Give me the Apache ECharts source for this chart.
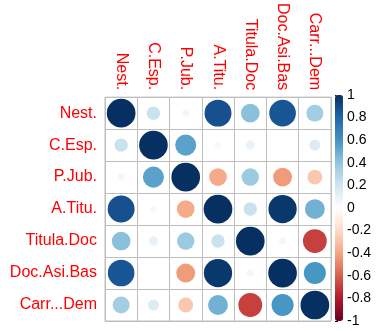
<!DOCTYPE html>
<html>
<head>
<meta charset="utf-8">
<script src="https://cdn.jsdelivr.net/npm/echarts@6/dist/echarts.min.js"></script>
<style>html,body{margin:0;padding:0;background:#fff;}#c{width:382px;height:331px;}</style>
</head>
<body>
<div id="c"></div>
<script>
const labels = ['Nest.','C.Esp.','P.Jub.','A.Titu.','Titula.Doc','Doc.Asi.Bas','Carr...Dem'];
const rowNest   = [1.00, 0.22, 0.06, 0.88, 0.42, 0.86, 0.35];
const rowCEsp   = [0.22, 1.00, 0.54, 0.05, 0.10, 0.01, 0.15];
const rowPJub   = [0.06, 0.54, 1.00, -0.38, 0.37, -0.43, -0.27];
const rowATitu  = [0.88, 0.05, -0.38, 1.00, 0.22, 0.97, 0.48];
const rowTitula = [0.42, 0.10, 0.37, 0.22, 1.00, 0.06, -0.69];
const rowDocAsi = [0.86, 0.01, -0.43, 0.97, 0.06, 1.00, 0.59];
const rowCarr   = [0.35, 0.15, -0.27, 0.48, -0.69, 0.59, 1.00];
const colorbarTicks = ['-1','-0.8','-0.6','-0.4','-0.2','0','0.2','0.4','0.6','0.8','1'];
const palette = ['#67001F','#B2182B','#D6604D','#F4A582','#FDDBC7','#FFFFFF','#D1E5F0','#92C5DE','#4393C3','#2166AC','#053061'];

const rows = [rowNest,rowCEsp,rowPJub,rowATitu,rowTitula,rowDocAsi,rowCarr];
const data = [];
rows.forEach((r,i)=>r.forEach((v,j)=>data.push([j,i,v])));

const chart = echarts.init(document.getElementById('c'));
const font = 'Liberation Sans, Arial, sans-serif';
chart.setOption({
  animation:false,
  backgroundColor:'#fff',
  grid:[
    {left:105,top:95,width:226,height:226,show:true,borderColor:'#BEBEBE',borderWidth:1},
    {left:335,top:95,width:8,height:226}
  ],
  xAxis:[
    {type:'category',data:labels,position:'top',gridIndex:0,
     axisLine:{show:false},axisTick:{show:false},
     splitLine:{show:true,interval:0,lineStyle:{color:'#BEBEBE',width:1}},
     axisLabel:{rotate:90,color:'#FF0000',fontSize:16,fontFamily:font,margin:7,interval:0}},
    {type:'value',gridIndex:1,show:false,min:0,max:1}
  ],
  yAxis:[
    {type:'category',data:labels,inverse:true,gridIndex:0,
     axisLine:{show:false},axisTick:{show:false},
     splitLine:{show:true,interval:0,lineStyle:{color:'#BEBEBE',width:1}},
     axisLabel:{color:'#FF0000',fontSize:16,fontFamily:font,margin:8,interval:0}},
    {type:'value',gridIndex:1,min:-1,max:1,interval:0.2,position:'right',
     axisLine:{show:false},splitLine:{show:false},
     axisTick:{show:true,length:3,lineStyle:{color:'#000'}},
     axisLabel:{color:'#000',fontSize:14,fontFamily:font,margin:4,
       formatter:(v)=>colorbarTicks[Math.round((v+1)/0.2)]}}
  ],
  visualMap:{
    type:'continuous',min:-1,max:1,dimension:2,seriesIndex:0,
    inRange:{color:palette},
    calculable:false,show:true,orient:'vertical',
    left:335,top:95,itemWidth:8,itemHeight:226,padding:0,text:null,
    textStyle:{color:'transparent'},showLabel:false
  },
  series:[
    {type:'scatter',xAxisIndex:0,yAxisIndex:0,data:data,
     symbol:'circle',
     symbolSize:(d)=>28.7*Math.sqrt(Math.abs(d[2])),
     itemStyle:{opacity:1}},
    {type:'line',xAxisIndex:1,yAxisIndex:1,data:[],silent:true}
  ]
});
</script>
</body>
</html>
